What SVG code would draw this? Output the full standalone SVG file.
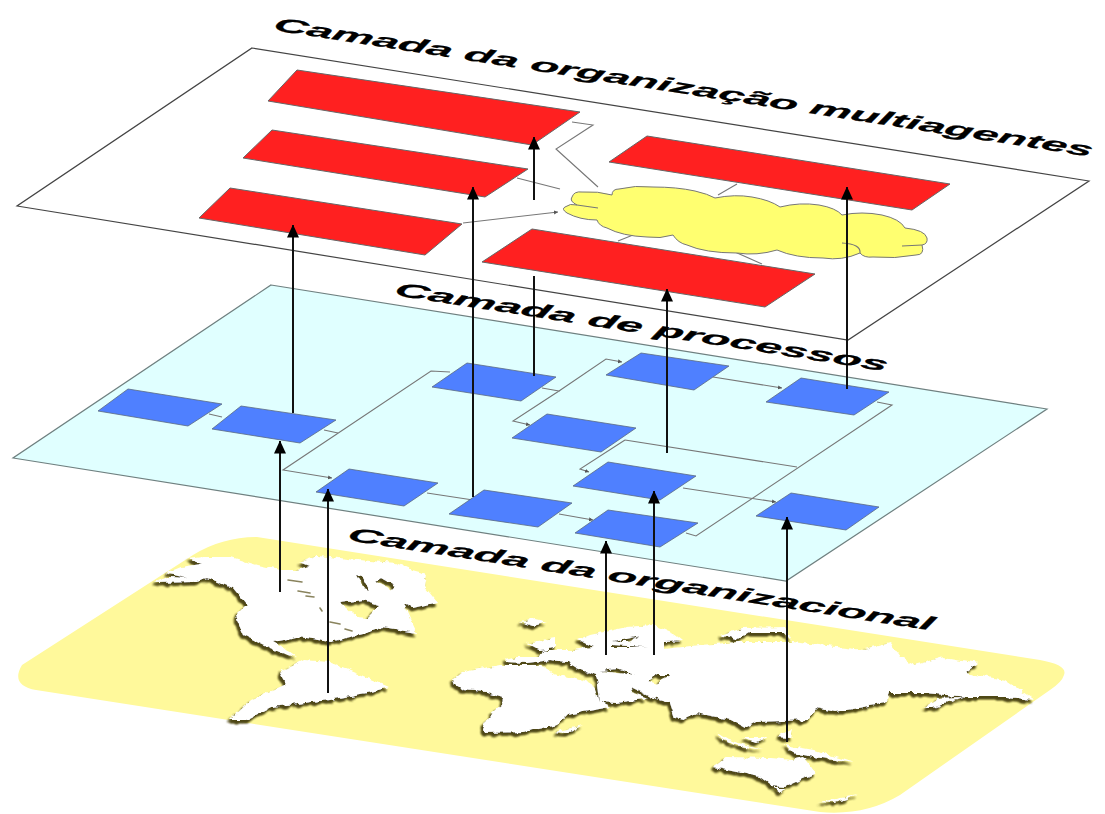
<svg xmlns="http://www.w3.org/2000/svg" width="1105" height="814" viewBox="0 0 1105 814">
<style>
.lbl{font-family:"Liberation Sans",Arial,sans-serif;font-weight:bold;font-style:italic;font-size:19.5px;fill:#000;stroke:#000;stroke-width:.25}
.plate1{fill:#fff;stroke:#444;stroke-width:1.2}
.plate2{fill:#e0ffff;stroke:#6f8080;stroke-width:1.2}
.red{fill:#ff2020;stroke:#666;stroke-width:1}
.blue{fill:#4f80ff;stroke:#5a6a80;stroke-width:.8}
.gl{fill:none;stroke:#777;stroke-width:1.1}
.ar{fill:none;stroke:#111;stroke-width:2;marker-end:url(#ah)}
.nl{fill:none;stroke:#111;stroke-width:2}
.land{fill:#fff;fill-rule:evenodd;filter:url(#sh)}
.lake{fill:none;stroke:#6b6435;stroke-width:1.6;stroke-linecap:round;opacity:.8}
</style>
<defs>
<marker id="ah" markerUnits="userSpaceOnUse" markerWidth="13" markerHeight="14" refX="12.5" refY="6" orient="auto"><path d="M0,0L13,6L0,12Z" fill="#000"/></marker>
<marker id="sm" markerUnits="userSpaceOnUse" markerWidth="5" markerHeight="5" refX="4" refY="2" orient="auto"><path d="M0,0L4,2L0,4Z" fill="#555"/></marker>
<filter id="sh" filterUnits="userSpaceOnUse" x="0" y="520" width="1105" height="294">
<feTurbulence type="fractalNoise" baseFrequency="0.14" numOctaves="2" seed="4" result="n"/>
<feDisplacementMap in="SourceGraphic" in2="n" scale="6" xChannelSelector="R" yChannelSelector="G" result="d"/>
<feGaussianBlur in="d" stdDeviation="0.4" result="dd"/>
<feGaussianBlur in="dd" stdDeviation="1" result="b"/>
<feOffset in="b" dx="-2" dy="2.5" result="o"/>
<feFlood flood-color="#4f4818"/>
<feComposite in2="o" operator="in" result="s"/>
<feMerge><feMergeNode in="s"/><feMergeNode in="s"/><feMergeNode in="dd"/></feMerge>
</filter>
</defs>
<rect width="1105" height="814" fill="#fff"/>

<g id="mapa">
<path d="M257,537L1040,660Q1068,665 1064,675Q1062,682 1050,690L900,795Q865,816 820,812L36,690Q10,685 22,665L193,555Q222,537 257,537Z" fill="#fff99b"/>
<g class="land">
<path d="M153,583L168,577L187,578L165,573L180,567L202,564L188,559L203,557L230,557L257,565L280,570L297,570L310,566L300,562L318,556L329,557L357,560L396,563L412,570L427,574L425,587L437,602L413,608L403,603L410,618L417,633L383,627L370,632L330,642L312,639L297,637L273,642L283,648L296,657L282,653L263,645L243,635L235,617L247,605L233,588L207,578L193,582ZM340,603L363,600L380,605L367,618L357,617ZM356,575L363,588L370,590L362,576ZM376,582L392,590L396,586L382,578Z"/>
<path d="M279,673L304,660L329,662L361,675L389,687L371,692L329,700L271,707L246,720L229,720L250,700L286,685Z"/>
<path d="M453,680L463,672L500,665L540,665L553,673L587,682L595,687L600,702L610,707L567,715L557,725L523,732L483,733L482,728L488,717L502,705L503,697L487,692L463,690L455,685Z"/>
<path d="M505,660L517,657L540,657L543,650L573,650L593,647L578,640L590,635L627,627L653,625L673,633L683,641L664,642L664,649L700,645L740,642L792,642L864,650L890,643L900,657L915,665L944,657L978,663L965,673L1005,680L1034,700L1008,697L969,697L925,693L890,693L886,703L835,712L817,708L807,720L756,722L745,728L731,720L697,713L683,720L675,718L670,703L653,698L633,688L630,692L648,698L617,703L600,702L598,684L596,676L577,668L567,662L550,660L527,663L507,662ZM613,642L640,636L628,642ZM612,647L647,647L612,645ZM600,671L617,669L635,675L617,673ZM647,682L657,675L670,675L660,680L657,685Z"/>
<path d="M527,643L555,638L555,648L540,650Z"/>
<path d="M520,622L535,619L548,622L533,626Z"/>
<path d="M720,635L742,628L785,627L792,640L785,632L750,632L737,640Z"/>
<path d="M924,708L940,698L962,697L933,708Z"/>
<path d="M829,700L872,695L880,692L862,700L835,705Z"/>
<path d="M555,732L583,725L567,733Z"/>
<path d="M717,733L728,740L763,750L735,745L722,740Z"/>
<path d="M742,738L767,738L756,743Z"/>
<path d="M778,737L792,730L790,738Z"/>
<path d="M785,745L814,750L855,763L821,758L792,753Z"/>
<path d="M713,767L727,757L771,758L792,760L803,757L816,773L800,780L785,787L772,786L760,777Z"/>
<path d="M774,788L785,788L780,793Z"/>
<path d="M819,802L857,795L835,803Z"/>
</g>
<path class="lake" d="M288,580L302,582M298,591L310,593M306,596L314,597M320,608L322,611M330,622L340,624M345,629L352,631"/>
</g>

<g id="camada-processos">
<polygon class="plate2" points="271,285 1047,409 786,581 13,458"/>
</g>
<g id="camada-multiagentes">
<polygon class="plate1" points="252,48 1089,181 848,340 17,206"/>
</g>

<g id="conectores-base">
<path class="gl" d="M572,122L593,125L556,149L598,187"/>
<path class="gl" d="M517,178L560,189"/>
<path class="gl" d="M463,223L558,212" marker-end="url(#sm)"/>
<path class="gl" d="M737,184L718,195"/>
<path class="gl" d="M633,235L618,241"/>
<path class="gl" d="M735,252L762,264"/>
<path class="gl" d="M209,414L222,417"/>
<path class="gl" d="M324,430L338,433"/>
<path class="gl" d="M450,372L431,371L283,470L332,478" marker-end="url(#sm)"/>
<path class="gl" d="M542,388L559,391L513,421L530,425" marker-end="url(#sm)"/>
<path class="gl" d="M559,391L606,359L622,362" marker-end="url(#sm)"/>
<path class="gl" d="M713,377L782,388" marker-end="url(#sm)"/>
<path class="gl" d="M877,402L892,405L696,536L686,533"/>
<path class="gl" d="M625,440L797,467"/>
<path class="gl" d="M625,440L580,469L589,472" marker-end="url(#sm)"/>
<path class="gl" d="M683,488L776,502" marker-end="url(#sm)"/>
<path class="gl" d="M427,493L473,500"/>
<path class="gl" d="M559,514L593,520" marker-end="url(#sm)"/>
</g>

<g id="nuvem">
<path d="M572,197Q574,191 582,192Q598,191 612,195Q612,189 619,189Q635,185 653,187Q677,187 695,191Q708,194 715,198Q735,194 752,197Q770,200 780,207Q800,202 819,205Q836,208 842,215Q862,211 882,215Q900,219 905,228Q925,230 927,238Q928,244 922,245Q925,255 916,255Q895,259 873,257Q864,258 860,253Q842,261 823,258Q795,258 777,250Q757,256 737,253Q705,253 687,245Q678,243 673,235Q660,239 647,237Q622,236 607,228Q599,226 597,220Q580,220 567,213Q561,209 565,207Q570,203 577,205Q569,201 572,197Z" fill="#ffff70" stroke="#777" stroke-width="1"/>
<path class="gl" d="M577,205L598,208M842,243Q861,244 860,253M902,246L922,245" stroke-width=".8"/>
</g>

<g id="agente-1"><polygon class="red" points="297,70 580,112 532,145 268,101"/></g>
<g id="agente-2"><polygon class="red" points="272,130 528,169 485,197 243,158"/></g>
<g id="agente-3"><polygon class="red" points="230,188 462,224 425,255 199,218"/></g>
<g id="agente-4"><polygon class="red" points="532,229 815,274 765,307 482,262"/></g>
<g id="agente-5"><polygon class="red" points="647,136 950,184 912,210 609,162"/></g>

<g id="processo-a"><polygon class="blue" points="128,389 222,404 188,426 98,411"/></g>
<g id="processo-b"><polygon class="blue" points="241,406 336,420 300,443 212,429"/></g>
<g id="processo-1"><polygon class="blue" points="467,363 556,377 521,401 432,387"/></g>
<g id="processo-2"><polygon class="blue" points="641,353 729,366 694,390 606,375"/></g>
<g id="processo-3"><polygon class="blue" points="801,378 889,392 854,415 766,402"/></g>
<g id="processo-4"><polygon class="blue" points="547,414 636,428 601,452 512,438"/></g>
<g id="processo-5"><polygon class="blue" points="608,462 696,476 660,500 573,486"/></g>
<g id="processo-6"><polygon class="blue" points="791,493 879,507 846,530 756,516"/></g>
<g id="processo-7"><polygon class="blue" points="608,510 698,523 660,547 575,533"/></g>
<g id="processo-8"><polygon class="blue" points="484,490 572,503 538,527 449,514"/></g>
<g id="processo-9"><polygon class="blue" points="349,469 438,483 404,506 316,492"/></g>

<g id="conectores">
<path class="ar" d="M293,413V225"/>
<path class="ar" d="M473,497V187"/>
<path class="ar" d="M534,200V137"/>
<path class="nl" d="M534,276V376"/>
<path class="ar" d="M667,453V289"/>
<path class="ar" d="M847,389V187"/>
<path class="ar" d="M280,592V441"/>
<path class="ar" d="M328,693V489"/>
<path class="ar" d="M606,655V541"/>
<path class="ar" d="M654,655V491"/>
<path class="ar" d="M787,742V517"/>
</g>

<g id="rotulos">
<text class="lbl" transform="translate(272,30) rotate(8.8) skewX(-14)" textLength="828" lengthAdjust="spacingAndGlyphs">Camada da organização multiagentes</text>
<text class="lbl" transform="translate(393,295) rotate(8.8) skewX(-14)" textLength="498" lengthAdjust="spacingAndGlyphs">Camada de processos</text>
<text class="lbl" transform="translate(346,540) rotate(8.8) skewX(-14)" textLength="592" lengthAdjust="spacingAndGlyphs">Camada da organizacional</text>
</g>
</svg>
